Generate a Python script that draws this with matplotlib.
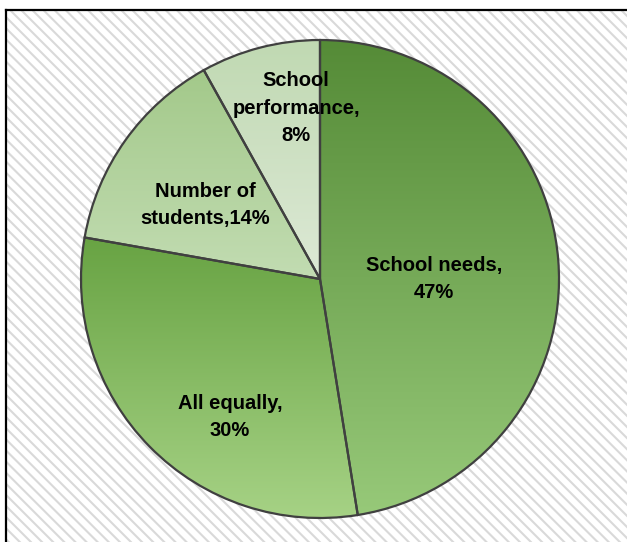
import numpy as np
import matplotlib
matplotlib.use("Agg")
import matplotlib.pyplot as plt
from matplotlib.patches import Rectangle
from matplotlib.lines import Line2D
from matplotlib.colors import to_rgb

categories = ["School needs", "All equally", "Number of students", "School performance"]
values = [47, 30, 14, 8]
labels = ["School needs,\n47%", "All equally,\n30%", "Number of\nstudents,14%", "School\nperformance,\n8%"]
top_colors = ["#558b37", "#68a343", "#a3c98a", "#c0d9b2"]
bottom_colors = ["#97c979", "#a6d285", "#c2dcb2", "#dde9d6"]
label_pos = [(0.477, 0.0), (-0.377, -0.577), (-0.481, 0.310), (-0.10, 0.715)]

plt.rcParams['hatch.linewidth'] = 1.5
W, H = 627, 542
fig = plt.figure(figsize=(W / 100, H / 100), dpi=100)
fig.patch.set_facecolor("white")

# hatched background with border (top & left)
bg = Rectangle((6 / W, 0), 1 - 6 / W, 1 - 10 / H, transform=fig.transFigure,
               facecolor="white", edgecolor="#d9d9d9", linewidth=0,
               hatch="\\" * 3, zorder=-5)
fig.patches.append(bg)
fig.lines.append(Line2D([6 / W, 1], [1 - 10 / H, 1 - 10 / H], transform=fig.transFigure,
                        color="black", lw=1.6, zorder=-4))
fig.lines.append(Line2D([6 / W, 6 / W], [0, 1 - 10 / H], transform=fig.transFigure,
                        color="black", lw=1.6, zorder=-4))

cx, cy, R = 320, 279, 239
ax = fig.add_axes([(cx - R) / W, (H - cy - R) / H, 2 * R / W, 2 * R / H])
ax.set_facecolor("none")
ax.set_zorder(2)

wedges, _ = ax.pie(values, startangle=90, counterclock=False, radius=1,
                   wedgeprops=dict(edgecolor="#404040", linewidth=1.6))
for w, tc, bc in zip(wedges, top_colors, bottom_colors):
    w.set_facecolor("none")
    w.set_zorder(3)
    th = np.linspace(np.radians(w.theta1), np.radians(w.theta2), 200)
    ys = np.concatenate([[w.center[1]], w.center[1] + w.r * np.sin(th)])
    xs = np.concatenate([[w.center[0]], w.center[0] + w.r * np.cos(th)])
    y0, y1 = ys.min(), ys.max()
    x0, x1 = xs.min(), xs.max()
    t = np.linspace(0, 1, 256)[:, None]
    grad = (1 - t) * np.array(to_rgb(tc)) + t * np.array(to_rgb(bc))
    grad = grad[:, None, :]
    im = ax.imshow(grad, extent=[x0, x1, y0, y1], origin="upper", aspect="auto",
                   interpolation="bilinear", zorder=2)
    im.set_clip_path(w)

for (x, y), lab in zip(label_pos, labels):
    ax.text(x, y, lab, ha="center", va="center", fontsize=14.5, fontweight="bold",
            family=["Liberation Sans", "DejaVu Sans"],
            linespacing=1.55, zorder=5, color="black")

ax.set_xlim(-1, 1)
ax.set_ylim(-1, 1)
ax.set_aspect("auto")
ax.axis("off")

fig.savefig("out.png", dpi=100)
